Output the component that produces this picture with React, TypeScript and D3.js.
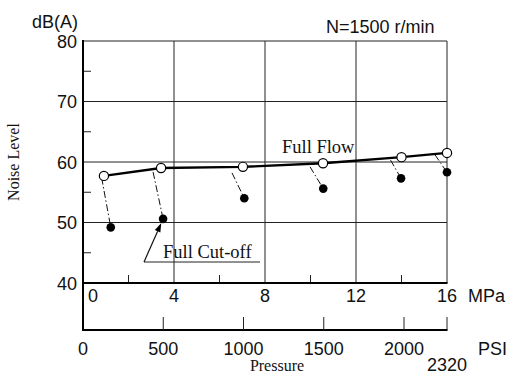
import React from "react";
import * as d3 from "d3";

const flowMPa = [0.92, 3.43, 7.03, 10.55, 14.0, 16.0];
const flowDb = [57.7, 59.0, 59.2, 59.8, 60.8, 61.5];
const cutMPa = [1.22, 3.52, 7.09, 10.56, 13.98, 16.0];
const cutDb = [49.2, 50.6, 54.0, 55.6, 57.3, 58.3];
const cutStartMPa = [0.82, 3.08, 6.55, 9.98, 13.52, 15.47];
const cutStartDb = [57.4, 58.35, 58.2, 59.2, 60.3, 61.2];

const yMajor = [40, 50, 60, 70, 80];
const yMinor = [45, 55, 65, 75];
const mpaMajor = [0, 4, 8, 12, 16];
const mpaMinor = [2, 6, 10, 14];
const psiTicks = [500, 1000, 1500, 2000];
const psiLabels = ["0", "500", "1000", "1500", "2000"];
const psiMax = "2320";

const W = 512;
const H = 374;
const L = 83, R = 447, T = 41, B = 283, PSIY = 330;
const SANS = "'Liberation Sans', Arial, sans-serif";
const SERIF = "'Liberation Serif', 'Times New Roman', serif";

export default function App() {
  const x = d3.scaleLinear().domain([0, 16]).range([L, R]);
  const y = d3.scaleLinear().domain([40, 80]).range([B, T]);
  const psi = d3.scaleLinear().domain([0, 2000]).range([L, 404]);

  const flowLine = d3
    .line<number>()
    .x((_, i) => x(flowMPa[i]))
    .y((_, i) => y(flowDb[i]))(flowMPa);

  const arrowTarget = { x: x(cutMPa[1]), y: y(cutDb[1]) };
  const arrowStart = { x: 144, y: 262 };
  const ang = Math.atan2(arrowTarget.y - arrowStart.y, arrowTarget.x - arrowStart.x);
  const tipX = arrowTarget.x - Math.cos(ang) * 4.5;
  const tipY = arrowTarget.y - Math.sin(ang) * 4.5;
  const hl = 9, hw = 3;
  const bx = tipX - Math.cos(ang) * hl, by = tipY - Math.sin(ang) * hl;
  const px = -Math.sin(ang) * hw, py = Math.cos(ang) * hw;

  return (
    <svg width={W} height={H} style={{ position: "absolute", left: 0, top: 0, background: "#fff" }}>
      {/* grid */}
      {[50, 60, 70, 80].map((v) => (
        <line key={"gy" + v} x1={L} x2={R} y1={y(v)} y2={y(v)} stroke="#222" strokeWidth={1} />
      ))}
      {[4, 8, 12, 16].map((v) => (
        <line key={"gx" + v} x1={x(v)} x2={x(v)} y1={T} y2={B} stroke="#222" strokeWidth={1} />
      ))}
      {/* minor ticks */}
      {yMinor.map((v) => (
        <line key={"my" + v} x1={L} x2={L + 8} y1={y(v)} y2={y(v)} stroke="#222" strokeWidth={1} />
      ))}
      {mpaMinor.map((v) => (
        <line key={"mx" + v} x1={x(v)} x2={x(v)} y1={B} y2={B - 8} stroke="#222" strokeWidth={1} />
      ))}
      {/* axes */}
      <line x1={L} x2={L} y1={T - 1} y2={PSIY + 1} stroke="#000" strokeWidth={2} />
      <line x1={L - 1} x2={R + 0.5} y1={B} y2={B} stroke="#000" strokeWidth={2.2} />
      <line x1={L - 1} x2={R + 0.5} y1={PSIY} y2={PSIY} stroke="#000" strokeWidth={2} />
      {psiTicks.map((v) => (
        <line key={"pt" + v} x1={psi(v)} x2={psi(v)} y1={PSIY} y2={PSIY - 13} stroke="#222" strokeWidth={1} />
      ))}
      <line x1={R} x2={R} y1={PSIY} y2={PSIY - 13} stroke="#222" strokeWidth={1} />

      {/* y labels */}
      {yMajor.map((v) => (
        <text key={"yl" + v} x={77} y={y(v) + 6.5} textAnchor="end" fontFamily={SANS} fontSize={18} fill="#111">
          {v}
        </text>
      ))}
      <text x={32} y={28} fontFamily={SANS} fontSize={18} fill="#111">dB(A)</text>
      <text x={326} y={33} fontFamily={SANS} fontSize={18} fill="#111">N=1500 r/min</text>
      <text
        transform={`translate(19,${162}) rotate(-90)`}
        textAnchor="middle"
        fontFamily={SERIF}
        fontSize={16}
        fill="#111"
      >
        Noise Level
      </text>

      {/* MPa labels */}
      {mpaMajor.map((v, i) => (
        <text
          key={"ml" + v}
          x={i === 0 ? x(v) + 5 : x(v)}
          y={302}
          textAnchor={i === 0 ? "start" : "middle"}
          fontFamily={SANS}
          fontSize={18}
          fill="#111"
        >
          {v}
        </text>
      ))}
      <text x={468} y={302} fontFamily={SANS} fontSize={18} fill="#111">MPa</text>

      {/* PSI labels */}
      {[0, ...psiTicks].map((v, i) => (
        <text key={"pl" + v} x={psi(v)} y={355} textAnchor="middle" fontFamily={SANS} fontSize={18} fill="#111">
          {psiLabels[i]}
        </text>
      ))}
      <text x={R} y={371} textAnchor="middle" fontFamily={SANS} fontSize={18} fill="#111">{psiMax}</text>
      <text x={478} y={355} fontFamily={SANS} fontSize={18} fill="#111">PSI</text>
      <text x={277} y={371} textAnchor="middle" fontFamily={SERIF} fontSize={16} fill="#111">Pressure</text>

      {/* connectors */}
      {cutMPa.map((m, i) => (
        <line
          key={"c" + i}
          x1={x(cutStartMPa[i])}
          y1={y(cutStartDb[i])}
          x2={x(m)}
          y2={y(cutDb[i])}
          stroke="#111"
          strokeWidth={1}
          strokeDasharray="7 2.5 1.5 2.5"
        />
      ))}

      {/* full flow line */}
      <path d={flowLine || ""} fill="none" stroke="#000" strokeWidth={2.4} />
      {flowMPa.map((m, i) => (
        <circle key={"f" + i} cx={x(m)} cy={y(flowDb[i])} r={4.6} fill="#fff" stroke="#000" strokeWidth={1.2} />
      ))}
      {cutMPa.map((m, i) => (
        <circle key={"k" + i} cx={x(m)} cy={y(cutDb[i])} r={4.3} fill="#000" />
      ))}

      {/* annotations */}
      <text x={282} y={153} fontFamily={SERIF} fontSize={18.5} fill="#111">Full Flow</text>
      <text x={163} y={258} fontFamily={SERIF} fontSize={18.5} fill="#111">Full Cut-off</text>
      <line x1={arrowStart.x} y1={arrowStart.y} x2={260} y2={arrowStart.y} stroke="#222" strokeWidth={1} />
      <line x1={arrowStart.x} y1={arrowStart.y} x2={bx} y2={by} stroke="#111" strokeWidth={1.2} />
      <polygon points={`${tipX},${tipY} ${bx + px},${by + py} ${bx - px},${by - py}`} fill="#000" />
    </svg>
  );
}
